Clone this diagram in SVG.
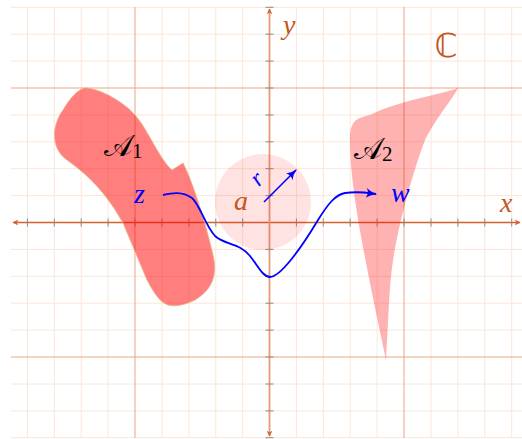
<svg xmlns="http://www.w3.org/2000/svg" width="522" height="439" viewBox="0 0 522 439">
<defs>
<style>
.minor{stroke:#fbe6d8;stroke-width:1}
.major{stroke:#e9a780;stroke-width:1}
.tick{stroke:#8a8a8a;stroke-width:1}
.lbl{font-family:"Liberation Serif","DejaVu Serif",serif;font-style:italic;fill:#c4561c}
.blue{font-family:"Liberation Serif","DejaVu Serif",serif;font-style:italic;fill:#0000ff}
.set{font-family:"DejaVu Serif","Liberation Serif",serif;fill:#000}
.sub{font-family:"Liberation Serif","DejaVu Serif",serif;font-size:21px}
</style>
<marker id="axhead" viewBox="0 0 10 10" refX="9" refY="5" markerWidth="6" markerHeight="6" orient="auto-start-reverse" markerUnits="userSpaceOnUse">
<path d="M0,0 L10,5 L0,10 L3,5 Z" fill="#d5612a"/>
</marker>
<marker id="bhead" viewBox="0 0 10 10" refX="9" refY="5" markerWidth="11" markerHeight="11" orient="auto" markerUnits="userSpaceOnUse">
<path d="M0,0.5 Q4,4 10,5 Q4,6 0,9.5 Q3,5 0,0.5 Z" fill="#0000ff"/>
</marker>
</defs>
<rect width="522" height="439" fill="#fff"/>
<g id="grid">
<g class="minor">
<line x1="27.4" y1="7" x2="27.4" y2="438"/><line x1="54.3" y1="7" x2="54.3" y2="438"/><line x1="81.2" y1="7" x2="81.2" y2="438"/><line x1="108.1" y1="7" x2="108.1" y2="438"/><line x1="162" y1="7" x2="162" y2="438"/><line x1="188.9" y1="7" x2="188.9" y2="438"/><line x1="215.8" y1="7" x2="215.8" y2="438"/><line x1="242.7" y1="7" x2="242.7" y2="438"/><line x1="296.4" y1="7" x2="296.4" y2="438"/><line x1="323.3" y1="7" x2="323.3" y2="438"/><line x1="350.2" y1="7" x2="350.2" y2="438"/><line x1="377.1" y1="7" x2="377.1" y2="438"/><line x1="431" y1="7" x2="431" y2="438"/><line x1="457.9" y1="7" x2="457.9" y2="438"/><line x1="484.8" y1="7" x2="484.8" y2="438"/><line x1="511.7" y1="7" x2="511.7" y2="438"/>
<line x1="11" y1="7.3" x2="522" y2="7.3"/><line x1="11" y1="34.2" x2="522" y2="34.2"/><line x1="11" y1="61.1" x2="522" y2="61.1"/><line x1="11" y1="115" x2="522" y2="115"/><line x1="11" y1="141.8" x2="522" y2="141.8"/><line x1="11" y1="168.7" x2="522" y2="168.7"/><line x1="11" y1="195.6" x2="522" y2="195.6"/><line x1="11" y1="249.4" x2="522" y2="249.4"/><line x1="11" y1="276.3" x2="522" y2="276.3"/><line x1="11" y1="303.2" x2="522" y2="303.2"/><line x1="11" y1="330.1" x2="522" y2="330.1"/><line x1="11" y1="384" x2="522" y2="384"/><line x1="11" y1="410.9" x2="522" y2="410.9"/><line x1="11" y1="437.7" x2="522" y2="437.7"/>
</g>
<g class="major">
<line x1="135" y1="7" x2="135" y2="438"/><line x1="404" y1="7" x2="404" y2="438"/>
<line x1="11" y1="88" x2="522" y2="88"/><line x1="11" y1="357" x2="522" y2="357"/>
</g>
</g>
<g id="axes">
<line x1="13" y1="222.5" x2="520" y2="222.5" stroke="#d5612a" stroke-width="1.4" marker-start="url(#axhead)" marker-end="url(#axhead)"/>
<line x1="269.5" y1="9" x2="269.5" y2="436" stroke="#e49b76" stroke-width="1.8" marker-start="url(#axhead)" marker-end="url(#axhead)"/>
<g class="tick">
<line x1="27.4" y1="218.5" x2="27.4" y2="226.5"/><line x1="54.3" y1="218.5" x2="54.3" y2="226.5"/><line x1="81.2" y1="218.5" x2="81.2" y2="226.5"/><line x1="108.1" y1="218.5" x2="108.1" y2="226.5"/><line x1="135" y1="218.5" x2="135" y2="226.5"/><line x1="162" y1="218.5" x2="162" y2="226.5"/><line x1="188.9" y1="218.5" x2="188.9" y2="226.5"/><line x1="215.8" y1="218.5" x2="215.8" y2="226.5"/><line x1="242.7" y1="218.5" x2="242.7" y2="226.5"/><line x1="296.4" y1="218.5" x2="296.4" y2="226.5"/><line x1="323.3" y1="218.5" x2="323.3" y2="226.5"/><line x1="350.2" y1="218.5" x2="350.2" y2="226.5"/><line x1="377.1" y1="218.5" x2="377.1" y2="226.5"/><line x1="404" y1="218.5" x2="404" y2="226.5"/><line x1="431" y1="218.5" x2="431" y2="226.5"/><line x1="457.9" y1="218.5" x2="457.9" y2="226.5"/><line x1="484.8" y1="218.5" x2="484.8" y2="226.5"/><line x1="511.7" y1="218.5" x2="511.7" y2="226.5"/>
<line x1="265.5" y1="7.3" x2="273.5" y2="7.3"/><line x1="265.5" y1="34.2" x2="273.5" y2="34.2"/><line x1="265.5" y1="61.1" x2="273.5" y2="61.1"/><line x1="265.5" y1="88" x2="273.5" y2="88"/><line x1="265.5" y1="115" x2="273.5" y2="115"/><line x1="265.5" y1="141.8" x2="273.5" y2="141.8"/><line x1="265.5" y1="168.7" x2="273.5" y2="168.7"/><line x1="265.5" y1="195.6" x2="273.5" y2="195.6"/><line x1="265.5" y1="249.4" x2="273.5" y2="249.4"/><line x1="265.5" y1="276.3" x2="273.5" y2="276.3"/><line x1="265.5" y1="303.2" x2="273.5" y2="303.2"/><line x1="265.5" y1="330.1" x2="273.5" y2="330.1"/><line x1="265.5" y1="357" x2="273.5" y2="357"/><line x1="265.5" y1="384" x2="273.5" y2="384"/><line x1="265.5" y1="410.9" x2="273.5" y2="410.9"/><line x1="265.5" y1="437.7" x2="273.5" y2="437.7"/>
</g>
<text class="lbl" x="283" y="34" font-size="28">y</text>
<text class="lbl" x="500" y="212" font-size="28">x</text>
<text x="446" y="57" font-size="33" fill="#c4561c" font-family="DejaVu Sans, sans-serif" text-anchor="middle">ℂ</text>
</g>
<g id="A1">
<path d="M85 88 C100 88 125 103 135 115 C147 128 160 160 172 170 L183 163 C192 180 205 220 213 255 C218 275 212 290 195 300 C185 305 175 307 168 305 C160 302 155 295 147 280 L123 223 C110 200 95 180 67 160 C50 148 52 125 63 110 C70 98 78 89 85 88 Z" fill="#ff0000" fill-opacity="0.5" stroke="#e8b48a" stroke-width="0.8"/>
<text class="set" x="104" y="156" font-size="30">𝒜<tspan class="sub" dy="2">1</tspan></text>
</g>
<g id="A2">
<path d="M458 88 C440 95 400 100 370 115 C355 118 350 122 350 140 C350 190 365 260 386 360 C388 330 389 290 392 268 C396 235 410 180 425 140 C438 115 452 100 458 88 Z" fill="#ff0000" fill-opacity="0.3"/>
<text class="set" x="354" y="159" font-size="30">𝒜<tspan class="sub" dy="2">2</tspan></text>
</g>
<g id="a">
<circle cx="263" cy="202" r="48" fill="#ff0000" fill-opacity="0.11"/>
<text class="lbl" x="234" y="210" font-size="28">a</text>
</g>
<g id="z"><text class="blue" x="134" y="203" font-size="28">z</text></g>
<g id="w"><text class="blue" x="391" y="202" font-size="28">w</text></g>
<g id="connectors">
<line x1="264" y1="202" x2="296" y2="170" stroke="#0000ff" stroke-width="1.6" marker-end="url(#bhead)"/>
<text class="blue" font-size="24" transform="translate(262,184) rotate(-45)" text-anchor="middle">r</text>
<path d="M163 195 C172 193 182 191 192 198 C200 205 205 225 215 236 C225 245 240 243 250 256 C258 266 263 277 270 277 C280 277 300 250 318 220 C328 204 335 195 345 193 C360 191 368 193 376 194" fill="none" stroke="#0000ff" stroke-width="1.8" marker-end="url(#bhead)"/>
</g>
</svg>
